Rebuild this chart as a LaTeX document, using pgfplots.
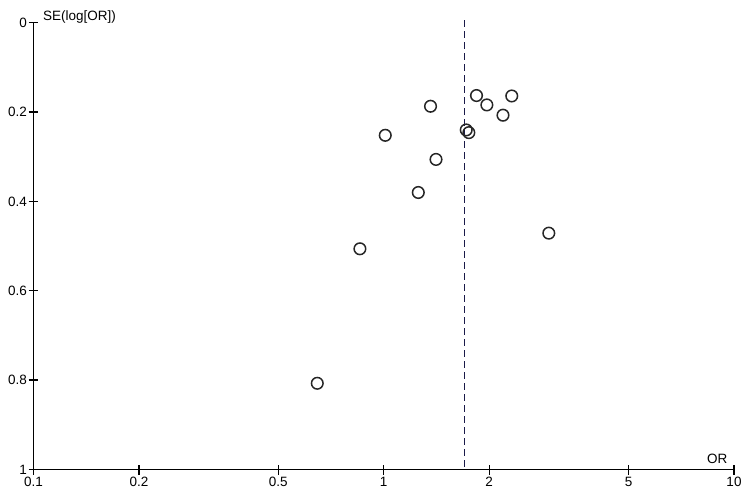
\documentclass[border=0pt]{standalone}
\usepackage{fontspec}
\setmainfont{Liberation Sans}
\usepackage{pgfplots}
\pgfplotsset{compat=1.18}
\definecolor{refline}{HTML}{1A1A48}
\begin{document}
\begin{tikzpicture}
\begin{axis}[
  scale only axis, width=700.5pt, height=446.8pt,
  xmode=log, xmin=0.1, xmax=10,
  ymin=0, ymax=1, y dir=reverse,
  axis lines=left, axis line style={-, line width=1.3pt},
  xtick={0.1,0.2,0.5,1,2,5,10},
  xticklabels={0.1,0.2,0.5,1,2,5,10},
  minor xtick={},
  ytick={0,0.2,0.4,0.6,0.8,1},
  yticklabels={0,0.2,0.4,0.6,0.8,1},
  tick align=center, major tick length=10pt,
  tick style={line width=1.3pt, black},
  tick label style={font=\fontsize{13.5}{15}\selectfont},
  /pgf/number format/assume math mode=true,
  xticklabel style={yshift=1pt},
  yticklabel style={xshift=2pt},
  xlabel={OR}, ylabel={SE(log[OR])},
  label style={font=\fontsize{13.5}{15}\selectfont},
  xlabel style={at={(axis description cs:1,0)}, anchor=south east, xshift=-3pt, yshift=2pt},
  ylabel style={at={(axis description cs:0,1)}, anchor=south west, rotate=-90, xshift=6pt, yshift=-4pt},
  clip=false,
]
\addplot[refline, line width=1.3pt, dash pattern=on 7pt off 4pt] coordinates {(1.70,-0.005) (1.70,1)};
\addplot[only marks, mark=o, mark size=5.8pt, mark options={line width=1.5pt, black!85}] coordinates {
(2.32,0.164) (1.84,0.163) (1.97,0.184) (1.36,0.187) (2.19,0.207)
(1.01,0.252) (1.72,0.240) (1.75,0.246) (1.41,0.306) (1.255,0.380)
(2.96,0.471) (0.855,0.506) (0.646,0.807)
};
\end{axis}
\pgfresetboundingbox
\path[use as bounding box] (current axis.south west) ++(-33.5pt,-23.5pt) rectangle ([shift={(13pt,22.7pt)}]current axis.north east);
\end{tikzpicture}
\end{document}
